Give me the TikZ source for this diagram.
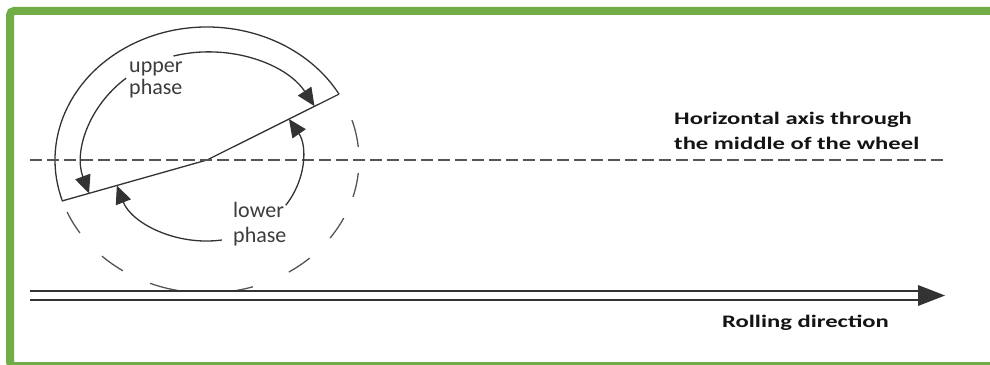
\documentclass[tikz,border=0pt]{standalone}
\usepackage{fontspec}
\setmainfont{Carlito}
\newfontfamily\captionfont{Carlito}[FakeStretch=1.4]
\usetikzlibrary{arrows.meta,calc}
\definecolor{frameGreen}{HTML}{70AD47}
\definecolor{lineDraw}{HTML}{333333}
\definecolor{rimDraw}{HTML}{555555}
\definecolor{capText}{HTML}{141414}
\definecolor{phaseText}{HTML}{3C3C3C}
\tikzset{
  x=1pt, y=1pt,
  frame/.style   ={draw=frameGreen, line width=8pt, rounded corners=4pt},
  wheel/.style   ={draw=lineDraw, line width=1.3pt, line join=miter},
  rim/.style     ={draw=rimDraw, line width=1.3pt},
  phasearr/.style={draw=lineDraw, line width=1.3pt, -{Triangle[length=18pt,width=16pt]}},
  axisline/.style={draw=rimDraw, line width=1.6pt, dash pattern=on 12pt off 5pt},
  road/.style    ={draw=lineDraw, line width=1.5pt, double=white, double distance=7.5pt},
  caption/.style ={font=\captionfont\bfseries\fontsize{17.6}{25}\selectfont, text=capText, align=left, inner sep=0pt},
  phase/.style   ={font=\fontsize{22}{22}\selectfont, text=phaseText, align=left, inner sep=0pt},
}

\begin{document}
\begin{tikzpicture}
  \fill[white] (0,0) rectangle (990,364);
  \useasboundingbox (0,0) rectangle (990,364);
  \draw[frame] (10,353) rectangle (1000,-2);

  % wheel: hub, upper half solid, lower half dashed
  \coordinate (hub) at (207,204);
  \coordinate (rimR) at ([shift={(29.7:152 and 133)}]hub);
  \draw[wheel] (rimR) arc[start angle=29.7, end angle=197.9, x radius=152, y radius=133]
    -- (hub) -- (rimR);
  \foreach \a/\b in {17.5/5.6, -5.6/-16.1, -25.9/-35.9, -47.5/-57.4, -72.4/-112, -123.6/-133.7, -146.7/-157}
    \draw[rim] ([shift={(\a:152 and 133)}]hub) arc[start angle=\a, end angle=\b, x radius=152, y radius=133];

  % horizontal axis
  \coordinate (axisL) at (30,204);
  \coordinate (axisR) at (943,204);
  \draw[axisline] (axisL) -- (axisR);
  \node[caption, anchor=base west] (axisText) at (674,214)
    {Horizontal axis through\\the middle of the wheel};

  % phases
  \node[phase, anchor=base west] (upper) at (129,269) {upper\\phase};
  \draw[phasearr] ([shift={(105.7:124 and 108)}]hub) arc[start angle=105.7, end angle=29.9, x radius=124, y radius=108];
  \draw[phasearr] ([shift={(130.7:124 and 108)}]hub) arc[start angle=130.7, end angle=198, x radius=124, y radius=108];
  \node[phase, anchor=base west, font=\fontsize{22}{25.5}\selectfont] (lower) at (233,121) {lower\\phase};
  \draw[phasearr] ([shift={(-81:95 and 81)}]hub) arc[start angle=-81, end angle=-161.6, x radius=95, y radius=81];
  \draw[phasearr] ([shift={(-34:95 and 81)}]hub) arc[start angle=-34, end angle=30.4, x radius=95, y radius=81];

  % rolling direction
  \coordinate (roadL) at (30,68.5);
  \coordinate (roadTip) at (945,68.5);
  \coordinate (roadHead) at (918,68.5);
  \draw[road] (roadL) -- (roadHead);
  \fill[lineDraw] ($(roadHead)+(0,10.5)$) -- (roadTip) -- ($(roadHead)+(0,-10.5)$) -- cycle;
  \node[caption, anchor=base west] (rollText) at (722,36) {Rolling direction};
\end{tikzpicture}
\end{document}
